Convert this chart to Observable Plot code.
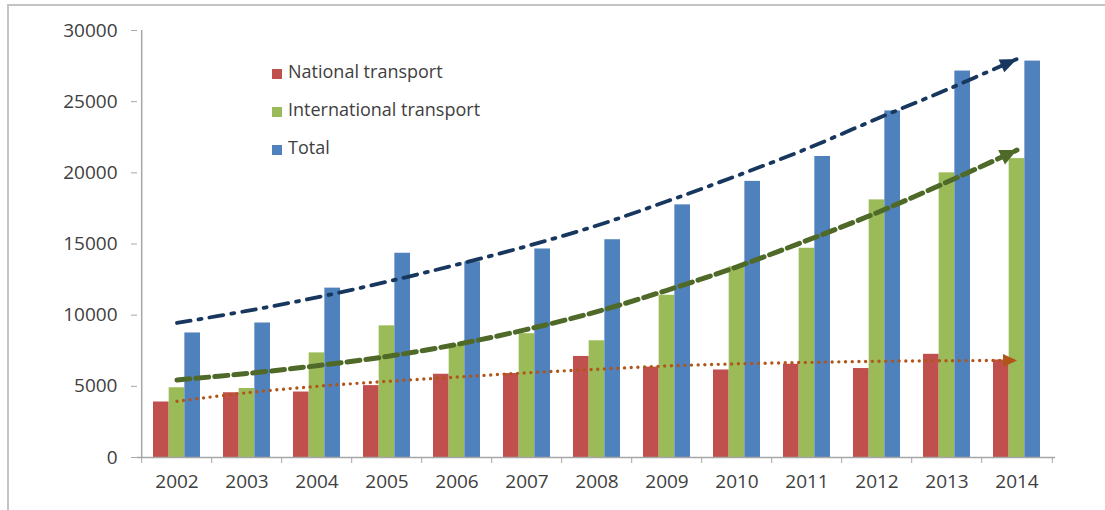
<!DOCTYPE html>
<html>
<head>
<meta charset="utf-8">
<script src="https://cdn.jsdelivr.net/npm/d3@7"></script>
<script src="https://cdn.jsdelivr.net/npm/@observablehq/plot@0.6"></script>
<style>
  body { margin: 0; background: #fff; }
  #wrap { position: relative; width: 1105px; height: 510px; overflow: hidden; font-family: "Open Sans", sans-serif; }
  #border { position: absolute; left: 7px; top: 4px; right: -20px; bottom: -20px; border-left: 2px solid #C4C4C4; border-top: 2px solid #C4C4C4; pointer-events: none; z-index: 2; }
  #legend { position: absolute; left: 272px; top: 52px; z-index: 3; }
  .row { height: 38px; line-height: 38px; font-size: 18px; color: #404040; white-space: nowrap; }
  .sw { display: inline-block; width: 10px; height: 10px; margin-right: 6px; position: relative; top: 1px; }
</style>
</head>
<body>
<div id="wrap">
  <div id="chart"></div>
  <div id="legend"></div>
  <div id="border"></div>
</div>
<script>
// ---- data ----
const years = ["2002","2003","2004","2005","2006","2007","2008","2009","2010","2011","2012","2013","2014"];
const seriesNames = ["National transport", "International transport", "Total"];
const national      = [3900, 4550, 4600, 5050, 5850, 5900, 7100, 6350, 6150, 6550, 6250, 7250, 6850];
const international = [4900, 4850, 7350, 9250, 7900, 8700, 8200, 11400, 13400, 14700, 18100, 20000, 21000];
const total         = [8750, 9450, 11900, 14350, 13750, 14650, 15300, 17750, 19400, 21150, 24350, 27150, 27850];
// trend lines
const trendNational      = [3950, 4550, 5000, 5350, 5650, 5950, 6200, 6430, 6580, 6680, 6760, 6800, 6820];
const trendInternational = [5450, 5900, 6450, 7100, 7950, 9000, 10250, 11750, 13400, 15250, 17200, 19350, 21600];
const trendTotal         = [9450, 10300, 11250, 12350, 13550, 14850, 16300, 18000, 19800, 21700, 23800, 25850, 28000];
const yTicks = [0, 5000, 10000, 15000, 20000, 25000, 30000];

// ---- styles ----
const barColors = ["#C0504D", "#9BBB59", "#4F81BD"];
const W = 1105, H = 510, mL = 137, mR = 50, mT = 30, mB = 53;
const padInner = 0.334, padOuter = padInner / 2;
const step = (W - mL - mR) / years.length;
const bw = step * (1 - padInner);
const axisGray = "#A6A6A6";
const textColor = "#404040";

function table(values) { return years.map((year, i) => ({year, value: values[i]})); }

function arrowMarker(len, wid) {
  return (color, context) => {
    const doc = (context && context.document) || document;
    const ns = "http://www.w3.org/2000/svg";
    const m = doc.createElementNS(ns, "marker");
    m.setAttribute("viewBox", `${-len} ${-wid / 2} ${len} ${wid}`);
    m.setAttribute("markerWidth", len);
    m.setAttribute("markerHeight", wid);
    m.setAttribute("markerUnits", "userSpaceOnUse");
    m.setAttribute("orient", "auto");
    m.setAttribute("refX", 0);
    m.setAttribute("refY", 0);
    m.setAttribute("overflow", "visible");
    const p = doc.createElementNS(ns, "path");
    p.setAttribute("d", `M${-len},${-wid / 2}L0,0L${-len},${wid / 2}Z`);
    p.setAttribute("fill", color);
    p.setAttribute("stroke", "none");
    m.appendChild(p);
    return m;
  };
}

const seriesValues = [national, international, total];
const barMarks = seriesValues.map((vals, k) =>
  Plot.barY(table(vals), {
    x: "year", y: "value", fill: barColors[k],
    insetLeft: k * bw / 3, insetRight: (2 - k) * bw / 3
  })
);

const chart = Plot.plot({
  width: W, height: H,
  marginLeft: mL, marginRight: mR, marginTop: mT, marginBottom: mB,
  style: {fontFamily: "'Open Sans', sans-serif", fontSize: "19px", color: textColor, background: "white"},
  x: {type: "band", domain: years, paddingInner: padInner, paddingOuter: padOuter, label: null},
  y: {domain: [0, 30000], label: null},
  marks: [
    ...barMarks,
    Plot.ruleY([0], {stroke: axisGray, strokeWidth: 1.5}),
    Plot.ruleX([years[0]], {dx: -step / 2, y1: 0, y2: 30000, stroke: axisGray, strokeWidth: 1.5}),
    Plot.axisY({ticks: yTicks, tickSize: 6, tickFormat: () => "", stroke: axisGray, label: null}),
    Plot.axisY({ticks: yTicks, tickSize: 0, tickPadding: 20, fill: textColor, fontSize: 19, tickFormat: d => `${d}`, label: null}),
    Plot.axisX({tickSize: 6, tickFormat: () => "", stroke: axisGray, dx: -step / 2, label: null}),
    Plot.axisX({ticks: [years[years.length - 1]], tickSize: 6, tickFormat: () => "", stroke: axisGray, dx: step / 2, label: null}),
    Plot.axisX({tickSize: 0, tickPadding: 17, fill: textColor, fontSize: 19, label: null}),
    Plot.line(table(trendNational), {
      x: "year", y: "value", stroke: "#B0561A", strokeWidth: 3.4, strokeDasharray: "0 6.7",
      strokeLinecap: "round", curve: "catmull-rom", markerEnd: arrowMarker(14, 13)
    }),
    Plot.line(table(trendInternational), {
      x: "year", y: "value", stroke: "#4F6A28", strokeWidth: 5, strokeDasharray: "13 6",
      curve: "catmull-rom", markerEnd: arrowMarker(17, 16)
    }),
    Plot.line(table(trendTotal), {
      x: "year", y: "value", stroke: "#17375E", strokeWidth: 3.8, strokeDasharray: "14 8 3 8",
      curve: "catmull-rom", markerEnd: arrowMarker(17, 14)
    })
  ]
});
document.getElementById("chart").appendChild(chart);

// legend
const legend = document.getElementById("legend");
seriesNames.forEach((name, k) => {
  const row = document.createElement("div");
  row.className = "row";
  const sw = document.createElement("span");
  sw.className = "sw";
  sw.style.background = barColors[k];
  row.appendChild(sw);
  row.appendChild(document.createTextNode(name));
  legend.appendChild(row);
});
</script>
</body>
</html>
